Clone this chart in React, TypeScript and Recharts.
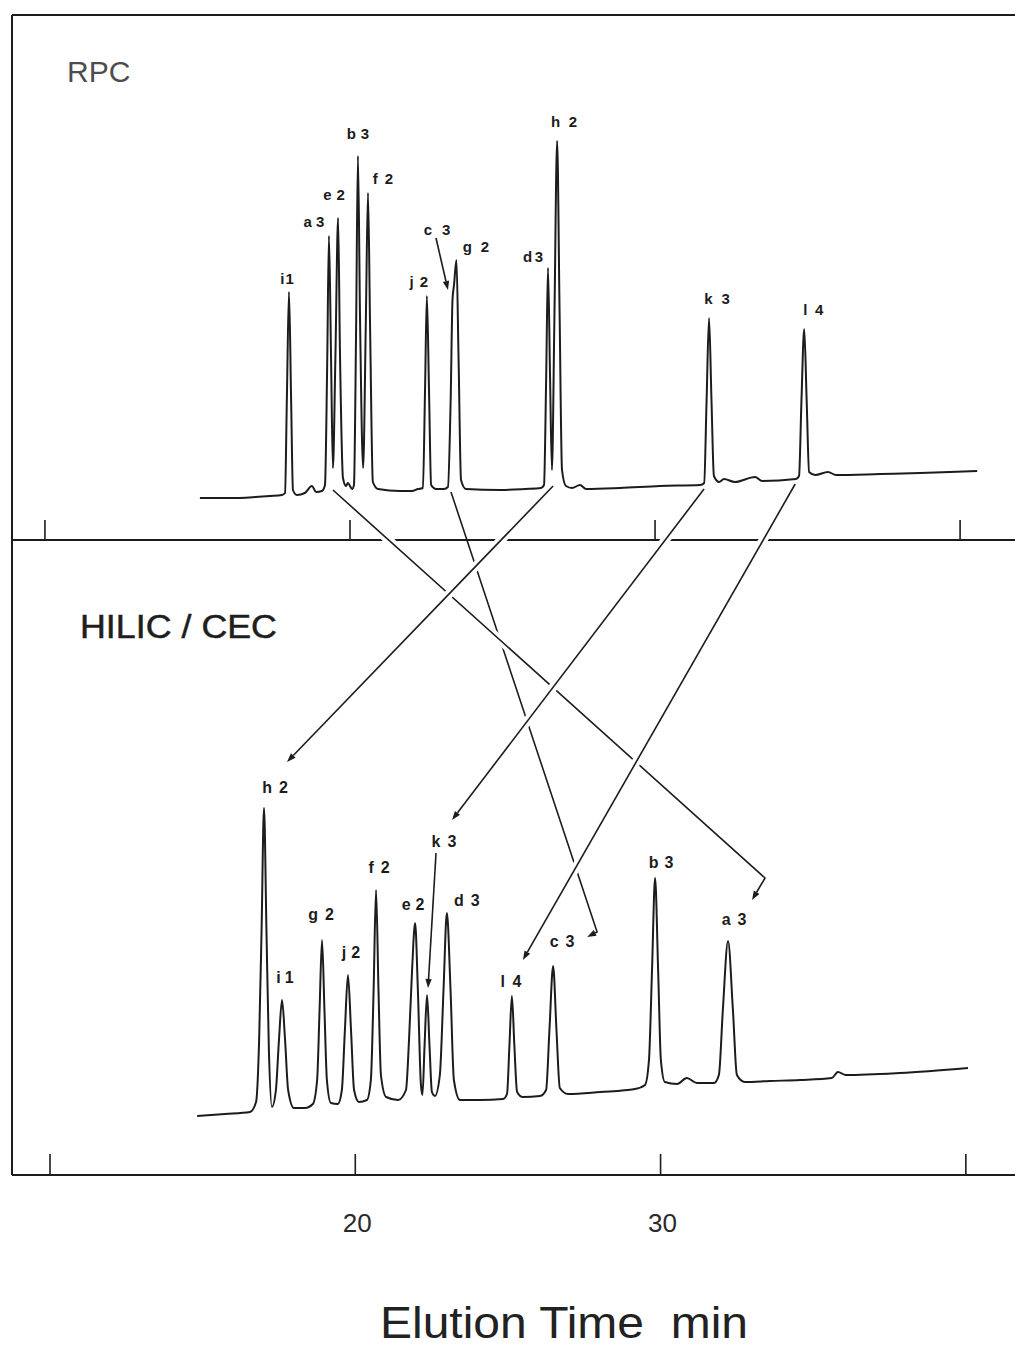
import React from 'react';
import { ComposedChart, Line, Scatter, XAxis, YAxis, ReferenceLine } from 'recharts';

const FONT = '"Liberation Sans", Arial, Helvetica, sans-serif';
const INK = '#1c1c1c';
const WIDTH = 1015;
const HEIGHT = 1349;
const PLOT_LEFT = 12;
const PLOT_W = WIDTH - PLOT_LEFT;

// time axes (min) and detector response ranges of the two panels
const rpcTimeDomain = [8.92, 41.8];
const hilicTimeDomain = [8.755, 41.61];
const rpcSignalDomain = [0, 105];
const hilicSignalDomain = [0, 127];
const timeTicks = [10, 20, 30, 40];
const labelledTicks = [20, 30];

// RPC chromatogram
const rpcTime = [
  15.08, 16.07, 16.89, 17.38, 17.77, 17.87, 17.93, 18.0, 18.07, 18.13,
  18.26, 18.52, 18.75, 18.89, 19.08, 19.18, 19.25, 19.31, 19.38, 19.44,
  19.52, 19.61, 19.67, 19.77, 19.87, 19.93, 20.07, 20.13, 20.2, 20.26,
  20.33, 20.43, 20.52, 20.59, 20.66, 20.75, 20.92, 21.64, 22.03, 22.23,
  22.39, 22.46, 22.52, 22.59, 22.66, 22.82, 23.08, 23.21, 23.3, 23.36,
  23.41, 23.49, 23.56, 23.64, 23.8, 24.92, 25.74, 26.26, 26.36, 26.43,
  26.49, 26.56, 26.62, 26.7, 26.79, 26.87, 26.95, 27.08, 27.28, 27.54,
  27.74, 28.85, 30.16, 31.48, 31.61, 31.69, 31.77, 31.85, 31.93, 32.1,
  32.26, 32.62, 33.28, 33.51, 34.62, 34.72, 34.8, 34.89, 34.97, 35.05,
  35.25, 35.67, 35.93, 37.38, 38.69, 39.67, 40.56,
];
const rpcSignal = [
  8.4, 8.4, 8.6, 8.8, 9.0, 9.4, 28.0, 49.6, 28.0, 10.0,
  9.0, 9.4, 10.8, 9.6, 9.8, 11.0, 34.0, 60.8, 36.0, 14.4,
  36.0, 64.4, 38.0, 12.4, 10.8, 11.4, 10.2, 11.0, 42.0, 76.8,
  44.0, 14.4, 44.0, 69.4, 42.0, 11.6, 10.2, 9.8, 9.8, 10.2,
  10.4, 30.0, 48.8, 30.0, 11.0, 10.2, 10.2, 10.6, 28.0, 48.0,
  51.0, 56.0, 36.0, 12.0, 10.2, 10.0, 10.2, 10.4, 11.0, 32.0,
  54.4, 32.0, 14.0, 44.0, 79.8, 46.0, 14.0, 10.8, 10.4, 11.0,
  10.2, 10.4, 10.8, 11.0, 11.4, 28.0, 44.4, 28.0, 12.8, 11.6,
  12.2, 11.6, 12.6, 11.8, 12.2, 12.8, 28.0, 42.2, 28.0, 13.6,
  13.0, 13.6, 13.0, 13.2, 13.4, 13.6, 13.8,
];
const rpcPeakNames = ['i1', 'a3', 'e2', 'b3', 'f2', 'j2', 'c3', 'g2', 'd3', 'h2', 'k3', 'l4'];
const rpcPeakTime = [18.0, 19.31, 19.61, 20.26, 20.59, 22.52, 23.36, 23.49, 26.49, 26.79, 31.77, 34.89];
const rpcPeakHeight = [49.6, 60.8, 64.4, 76.8, 69.4, 48.8, 48.0, 56.0, 54.4, 79.8, 44.4, 42.2];

// HILIC / CEC chromatogram
const hilicTime = [
  14.82, 15.73, 16.55, 16.75, 16.85, 16.93, 17.01, 17.09, 17.17, 17.27,
  17.4, 17.5, 17.6, 17.7, 17.8, 17.99, 18.35, 18.61, 18.75, 18.83,
  18.91, 18.99, 19.07, 19.2, 19.43, 19.56, 19.66, 19.76, 19.86, 19.96,
  20.12, 20.38, 20.51, 20.6, 20.68, 20.76, 20.84, 21.01, 21.4, 21.66,
  21.76, 21.86, 21.96, 22.05, 22.15, 22.2, 22.27, 22.35, 22.43, 22.51,
  22.61, 22.77, 22.89, 23.0, 23.12, 23.23, 23.43, 24.08, 24.84, 24.97,
  25.05, 25.13, 25.21, 25.3, 25.49, 26.05, 26.25, 26.36, 26.48, 26.59,
  26.7, 26.97, 28.02, 29.16, 29.49, 29.62, 29.72, 29.82, 29.92, 30.01,
  30.14, 30.54, 30.86, 31.19, 31.75, 31.91, 32.04, 32.21, 32.37, 32.5,
  32.76, 33.58, 34.57, 35.61, 35.81, 36.07, 37.84, 40.07,
];
const hilicSignal = [
  11.8, 12.2, 12.6, 14.6, 27.0, 49.0, 73.4, 49.0, 25.0, 13.6,
  17.0, 27.0, 35.0, 27.0, 17.0, 13.4, 13.4, 14.2, 19.0, 33.0,
  47.0, 33.0, 19.0, 14.4, 14.2, 17.0, 29.0, 40.0, 29.0, 17.0,
  14.6, 15.0, 19.0, 37.0, 57.0, 37.0, 20.0, 15.6, 15.0, 17.0,
  27.0, 41.0, 50.4, 37.0, 18.0, 16.0, 26.0, 36.0, 26.0, 16.6,
  15.8, 20.0, 37.0, 52.4, 37.0, 19.0, 15.0, 15.0, 15.2, 16.2,
  26.0, 35.8, 26.0, 16.6, 15.6, 15.8, 17.0, 29.0, 41.8, 29.0,
  17.4, 16.2, 16.6, 17.2, 18.0, 23.0, 41.0, 59.4, 41.0, 23.0,
  18.6, 18.2, 19.4, 18.4, 18.4, 20.0, 33.0, 46.8, 33.0, 20.0,
  18.6, 18.8, 19.0, 19.4, 20.6, 20.0, 20.4, 21.4,
];
const hilicPeakNames = ['h2', 'i1', 'g2', 'j2', 'f2', 'e2', 'k3', 'd3', 'l4', 'c3', 'b3', 'a3'];
const hilicPeakTime = [17.01, 17.6, 18.91, 19.76, 20.68, 21.96, 22.35, 23.0, 25.13, 26.48, 29.82, 32.21];
const hilicPeakHeight = [73.4, 35.0, 47.0, 40.0, 57.0, 50.4, 36.0, 52.4, 35.8, 41.8, 59.4, 46.8];

// label placement (px from the peak apex) and gap between letter and digit
const rpcLabelOffset = [
  [-2, -8], [-15, -9], [-4, -18], [0, -17], [15, -9], [-8, -9],
  [-15.5, -65], [19.5, -8], [-15, -6], [7, -14], [8, -14], [9, -14],
];
const rpcLabelGap = [1, 4, 5, 5, 7, 6, 10, 9, 2.5, 8.5, 9, 7.5];
const hilicLabelOffset = [
  [11, -15], [3, -17], [-1, -20], [3, -17], [3, -17], [-2, -13],
  [17, -148], [20, -7], [-1, -9], [9, -19], [6, -10], [6, -16],
];
const hilicLabelGap = [7, 4, 7, 5, 7, 5, 7, 7, 7.5, 7, 6, 7];

// small pointers from a label down to a peak it cannot sit above
const rpcPointers: Record<string, number[][]> = { c3: [[-16.5, -62], [-4.5, -10]] };
const hilicPointers: Record<string, number[][]> = { k3: [[9, -142], [1, -7]] };

// lines joining the same compound in both runs
const connectors = [
  { peak: 'c3', startDx: -1.5, startV: 9.6, path: [[44, -34], [34, -29]], halo: false },
  { peak: 'a3', startDx: 4, startV: 10.0, path: [[37, -63], [24, -41]], halo: true },
  { peak: 'h2', startDx: -4, startV: 10.8, path: [[23, -46]], halo: true },
  { peak: 'k3', startDx: -5, startV: 10.2, path: [[25, -175]], halo: true },
  { peak: 'l4', startDx: -9, startV: 11.2, path: [[11, -36]], halo: true },
];

// axis strips are 1px so recharts still draws them
const AXIS_H = 1;
const AXIS_W = 1;
const RPC_BOX = { top: 0, height: 560, margin: { top: 15, right: 0, bottom: 20 - AXIS_H, left: PLOT_LEFT - AXIS_W } };
const HILIC_BOX = { top: 540, height: 809, margin: { top: 0, right: 0, bottom: 174 - AXIS_H, left: PLOT_LEFT - AXIS_W } };

const rpcTrace = rpcTime.map((t, i) => ({ t, v: rpcSignal[i] }));
const hilicTrace = hilicTime.map((t, i) => ({ t, v: hilicSignal[i] }));
const rpcPeaks = rpcPeakNames.map((name, i) => ({ t: rpcPeakTime[i], v: rpcPeakHeight[i], name, i }));
const hilicPeaks = hilicPeakNames.map((name, i) => ({ t: hilicPeakTime[i], v: hilicPeakHeight[i], name, i }));

type Box = typeof RPC_BOX;

// same linear mapping the charts use, for the overlay that spans both panels
const xOf = (t: number, dom: number[]) => PLOT_LEFT + ((t - dom[0]) / (dom[1] - dom[0])) * PLOT_W;
const yOf = (v: number, dom: number[], box: Box) => {
  const top = box.top + box.margin.top;
  const h = box.height - box.margin.top - box.margin.bottom - AXIS_H;
  return top + (1 - (v - dom[0]) / (dom[1] - dom[0])) * h;
};

const Arrow = ({ pts, halo = false }: { pts: number[][]; halo?: boolean }) => {
  const n = pts.length;
  const [x1, y1] = pts[n - 2];
  const [x2, y2] = pts[n - 1];
  const a = Math.atan2(y2 - y1, x2 - x1);
  const len = 9;
  const half = 3.2;
  const bx = x2 - len * Math.cos(a);
  const by = y2 - len * Math.sin(a);
  const shaft = [...pts.slice(0, n - 1), [bx, by]].map((p) => p.join(',')).join(' ');
  const head = `${x2},${y2} ${bx + half * Math.sin(a)},${by - half * Math.cos(a)} ${bx - half * Math.sin(a)},${by + half * Math.cos(a)}`;
  // white casing on the long run so that crossed lines show a break
  const [p0, p1] = pts;
  const hx0 = p0[0] + (p1[0] - p0[0]) * 0.08;
  const hy0 = p0[1] + (p1[1] - p0[1]) * 0.08;
  const hx1 = p0[0] + (p1[0] - p0[0]) * 0.92;
  const hy1 = p0[1] + (p1[1] - p0[1]) * 0.92;
  return (
    <g>
      {halo && <line x1={hx0} y1={hy0} x2={hx1} y2={hy1} stroke="#fff" strokeWidth={9} />}
      <polyline points={shaft} fill="none" stroke={INK} strokeWidth={1.6} strokeLinejoin="round" />
      <polygon points={head} fill={INK} />
    </g>
  );
};

const makePeakLabel =
  (offsets: number[][], gaps: number[], pointers: Record<string, number[][]>, fontSize: number) =>
  (props: any) => {
    const { cx, cy, payload } = props;
    const [dx, dy] = offsets[payload.i];
    const name: string = payload.name;
    const ptr = pointers[name];
    return (
      <g>
        <text x={cx + dx} y={cy + dy} textAnchor="middle" fontSize={fontSize} fontWeight="bold" fontFamily={FONT} fill={INK}>
          <tspan>{name[0]}</tspan>
          <tspan dx={gaps[payload.i]}>{name.slice(1)}</tspan>
        </text>
        {ptr && <Arrow pts={ptr.map(([px, py]) => [cx + px, cy + py])} />}
      </g>
    );
  };

const makeTick = (tickLen: number, showLabels: boolean) => (props: any) => {
  const { x, y, payload } = props;
  return (
    <g>
      <line x1={x} y1={y} x2={x} y2={y - tickLen} stroke={INK} strokeWidth={1.6} />
      {showLabels && labelledTicks.includes(payload.value) && (
        <text x={x + 2} y={y + 57} textAnchor="middle" fontSize={26} fontFamily={FONT} fill="#2a2a2a">
          {payload.value}
        </text>
      )}
    </g>
  );
};

const Panel = ({
  box, timeDomain, signalDomain, trace, peaks, labelShape, tick, topBorder,
}: {
  box: Box; timeDomain: number[]; signalDomain: number[]; trace: any[]; peaks: any[];
  labelShape: (p: any) => React.ReactElement; tick: (p: any) => React.ReactElement; topBorder: boolean;
}) => (
  <div style={{ position: 'absolute', left: 0, top: box.top }}>
    <ComposedChart width={WIDTH} height={box.height} margin={box.margin}>
      <XAxis
        type="number"
        dataKey="t"
        domain={timeDomain}
        allowDataOverflow
        ticks={timeTicks}
        interval={0}
        height={AXIS_H}
        tickSize={0}
        tickMargin={0}
        tickLine={false}
        axisLine={{ stroke: INK, strokeWidth: 2 }}
        tick={tick}
      />
      <YAxis
        type="number"
        dataKey="v"
        domain={signalDomain}
        allowDataOverflow
        width={AXIS_W}
        tick={false}
        tickLine={false}
        axisLine={{ stroke: INK, strokeWidth: 2 }}
      />
      {topBorder && <ReferenceLine y={signalDomain[1]} stroke={INK} strokeWidth={2} />}
      <Line
        data={trace}
        dataKey="v"
        type="monotone"
        stroke={INK}
        strokeWidth={2}
        dot={false}
        activeDot={false}
        isAnimationActive={false}
      />
      <Scatter data={peaks} shape={labelShape} isAnimationActive={false} />
    </ComposedChart>
  </div>
);

export default function App() {
  const rpcIndex = (name: string) => rpcPeakNames.indexOf(name);
  const hilicIndex = (name: string) => hilicPeakNames.indexOf(name);

  return (
    <div style={{ position: 'absolute', left: 0, top: 0, width: WIDTH, height: HEIGHT, background: '#fff' }}>
      <Panel
        box={RPC_BOX}
        timeDomain={rpcTimeDomain}
        signalDomain={rpcSignalDomain}
        trace={rpcTrace}
        peaks={rpcPeaks}
        labelShape={makePeakLabel(rpcLabelOffset, rpcLabelGap, rpcPointers, 15)}
        tick={makeTick(20, false)}
        topBorder
      />
      <Panel
        box={HILIC_BOX}
        timeDomain={hilicTimeDomain}
        signalDomain={hilicSignalDomain}
        trace={hilicTrace}
        peaks={hilicPeaks}
        labelShape={makePeakLabel(hilicLabelOffset, hilicLabelGap, hilicPointers, 16)}
        tick={makeTick(21, true)}
        topBorder={false}
      />
      <svg
        width={WIDTH}
        height={HEIGHT}
        style={{ position: 'absolute', left: 0, top: 0, pointerEvents: 'none' }}
      >
        <text x={67} y={82} fontSize={30} fontFamily={FONT} fill="#4d4d4d">RPC</text>
        <text
          x={80}
          y={638}
          fontSize={33}
          fontFamily={FONT}
          fill="#1e1e1e"
          stroke="#1e1e1e"
          strokeWidth={0.5}
          textLength={197}
          lengthAdjust="spacingAndGlyphs"
        >
          HILIC / CEC
        </text>
        {connectors.map((c) => {
          const ri = rpcIndex(c.peak);
          const hi = hilicIndex(c.peak);
          const start = [xOf(rpcPeakTime[ri], rpcTimeDomain) + c.startDx, yOf(c.startV, rpcSignalDomain, RPC_BOX)];
          const hx = xOf(hilicPeakTime[hi], hilicTimeDomain);
          const hy = yOf(hilicPeakHeight[hi], hilicSignalDomain, HILIC_BOX);
          const pts = [start, ...c.path.map(([dx, dy]) => [hx + dx, hy + dy])];
          return <Arrow key={c.peak} pts={pts} halo={c.halo} />;
        })}
        <text
          x={380}
          y={1338}
          fontSize={44}
          fontFamily={FONT}
          fill="#222"
          textLength={368}
          lengthAdjust="spacingAndGlyphs"
          style={{ whiteSpace: 'pre' }}
        >
          {'Elution Time  min'}
        </text>
      </svg>
    </div>
  );
}
